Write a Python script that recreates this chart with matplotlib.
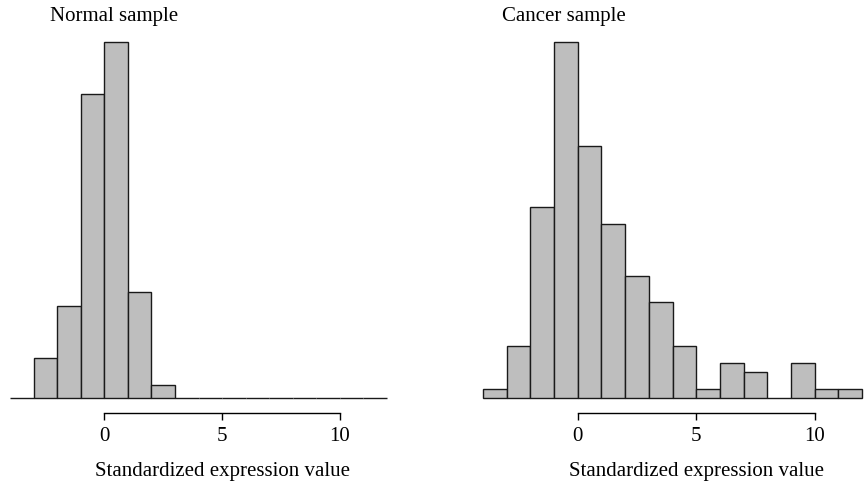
import matplotlib.pyplot as plt
import numpy as np

plt.rcParams['font.family'] = ['Liberation Serif', 'DejaVu Serif']

# histogram bins: left edges, width 1, from -4 to 12
bin_edges = np.arange(-4, 13)
normal_counts = [0, 3, 7, 23, 27, 8, 1, 0, 0, 0, 0, 0, 0, 0, 0, 0]
cancer_counts = [1, 6, 22, 41, 29, 20, 14, 11, 6, 1, 4, 3, 0, 4, 1, 1]
titles = ['Normal sample', 'Cancer sample']
xticks = [0, 5, 10]
xlabel = 'Standardized expression value'

fig = plt.figure(figsize=(8.65, 4.88), dpi=100)
W, H = 865, 488

# axes boxes in pixels: (left px, right px)
boxes = [(10, 387), (483, 862)]
base_px, top_px = 398, 41.7
title_x = [-2.29, -3.19]

for i, counts in enumerate([normal_counts, cancer_counts]):
    l, r = boxes[i]
    ax = fig.add_axes([l / W, (H - base_px) / H, (r - l) / W, (base_px - top_px) / H])
    ax.bar(bin_edges[:-1], counts, width=1, align='edge', color='#bebebe',
           edgecolor='#1a1a1a', linewidth=1.0, clip_on=False)
    ax.set_xlim(-4, 12)
    ax.set_ylim(0, max(counts))
    for s in ['top', 'right', 'left']:
        ax.spines[s].set_visible(False)
    ax.spines['bottom'].set_position(('outward', 10.8))
    ax.spines['bottom'].set_bounds(0, 10)
    ax.spines['bottom'].set_linewidth(1.0)
    ax.set_yticks([])
    ax.set_xticks(xticks)
    ax.tick_params(axis='x', length=5, width=1.0, pad=5, labelsize=15)
    ax.set_xlabel(xlabel, fontsize=15)
    ax.xaxis.set_label_coords((5 + 4) / 16, -0.18)
    ax.text(title_x[i], 1.071, titles[i], transform=ax.get_xaxis_transform(),
            fontsize=15, ha='left', va='center')

fig.savefig('out.png', dpi=100)
